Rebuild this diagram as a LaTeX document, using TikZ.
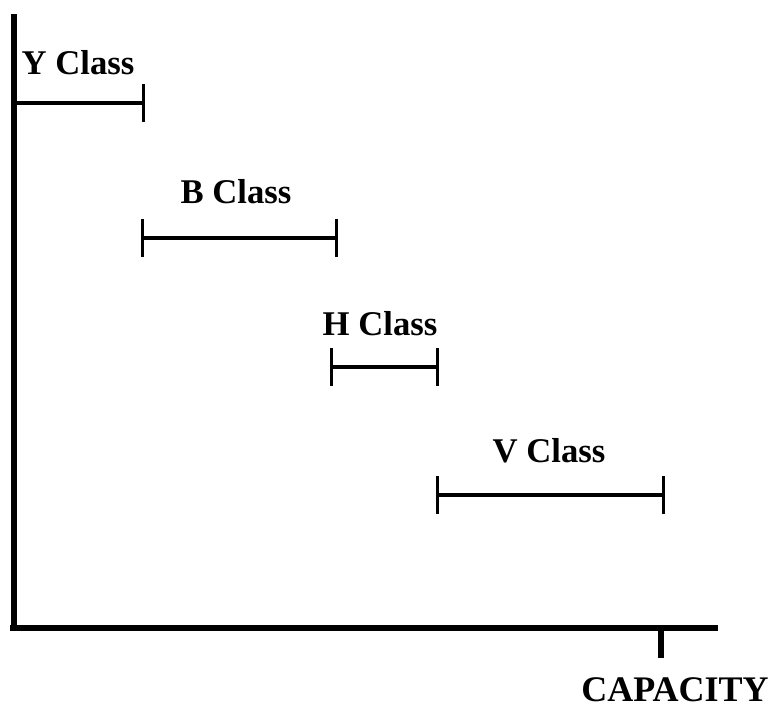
\documentclass[tikz,border=0pt]{standalone}
\usepackage{fontspec}
\setmainfont{Liberation Serif}
\usetikzlibrary{arrows.meta}
\tikzset{
  axis/.style={line width=4.5pt},
  bar/.style={line width=2.4pt,{Bar[width=28pt,line width=2.4pt]}-{Bar[width=28pt,line width=2.4pt]}},
  classlabel/.style={font=\fontsize{26}{30}\selectfont\bfseries,inner sep=0pt}
}
\begin{document}
\begin{tikzpicture}[x=0.75pt,y=-0.75pt]
\useasboundingbox (0,0) rectangle (774,716);
    % axes
    \coordinate (top) at (14,14);
    \coordinate (origin) at (14,628);
    \coordinate (right) at (718,628);
		\draw[axis] (top) -- (origin);
		\draw[axis] (10,628) -- (right);
    \coordinate (cap) at (661,628);
    \coordinate (capend) at (661,658);
		\draw[line width=4pt] (cap) -- (capend);
    \node[font=\fontsize{27}{30}\selectfont\bfseries,inner sep=0pt] (capacity) at (675,690) {CAPACITY};
    % fare classes
    \coordinate (y1) at (14,103);
    \coordinate (y2) at (145,103);
		\draw[line width=2.4pt,-{Bar[width=28pt,line width=2.4pt]}] (y1) -- (y2);
    \node[classlabel] (ylab) at (78,63) {Y Class};
    \coordinate (b1) at (141,238);
    \coordinate (b2) at (338,238);
		\draw[bar] (b1) -- (b2);
    \node[classlabel] (blab) at (236,192) {B Class};
    \coordinate (h1) at (330,367);
    \coordinate (h2) at (439,367);
		\draw[bar] (h1) -- (h2);
    \node[classlabel] (hlab) at (380,324) {H Class};
    \coordinate (v1) at (436,495);
    \coordinate (v2) at (665,495);
		\draw[bar] (v1) -- (v2);
    \node[classlabel] (vlab) at (549,451) {V Class};
\end{tikzpicture}
\end{document}
